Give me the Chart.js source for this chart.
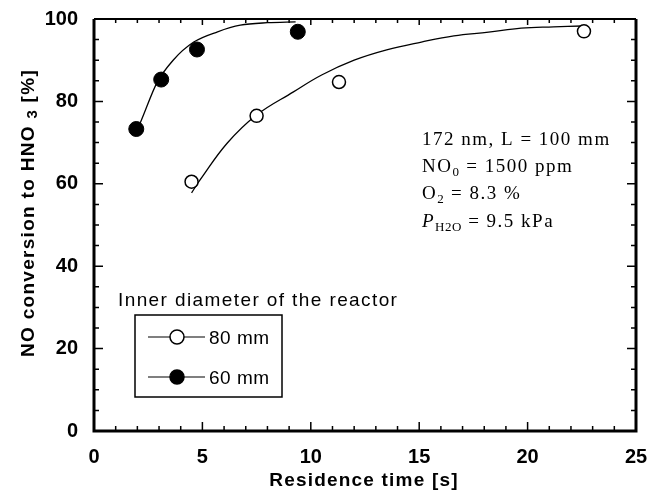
<!DOCTYPE html>
<html>
<head>
<meta charset="utf-8">
<script src="https://cdn.jsdelivr.net/npm/chart.js@4/dist/chart.umd.min.js"></script>
<style>
  html, body { margin: 0; padding: 0; background: #fff; }
  canvas { display: block; }
</style>
</head>
<body>
<canvas id="chart" width="649" height="501"></canvas>
<script>
// measured points (residence time [s], conversion [%])
const time80 = [4.5, 7.5, 11.3, 22.6];
const conv80 = [60.5, 76.5, 84.7, 97.0];
const time60 = [1.95, 3.1, 4.75, 9.4];
const conv60 = [73.3, 85.3, 92.6, 96.9];

// fitted curves
const fit80Time = [4.5, 4.9, 6.15, 7.5, 9.2, 10.5, 12, 13.5, 15.1, 16.6, 18.2, 19.7, 21.2, 22.5];
const fit80Conv = [57.8, 61, 69.9, 76.7, 82.3, 86.4, 90, 92.5, 94.4, 95.9, 96.8, 97.8, 98.1, 98.3];
const fit60Time = [2.0, 2.15, 2.9, 3.65, 4.6, 5.7, 6.75, 8.0, 9.3];
const fit60Conv = [73.3, 75, 84.5, 90, 94.4, 96.9, 98.5, 99.1, 99.3];

const xTickLabels = [0, 5, 10, 15, 20, 25];
const yTickLabels = [0, 20, 40, 60, 80, 100];
const legendLabels = ['80 mm', '60 mm'];

const toXY = (xs, ys) => xs.map((x, i) => ({ x: x, y: ys[i] }));

// draw text pieces one after another, some of them as subscripts
function richText(ctx, parts, x, y, align) {
    let total = 0;
    parts.forEach(p => { ctx.font = p.font; ctx.letterSpacing = (p.ls || 0) + 'px'; total += ctx.measureText(p.t).width; });
    let cx = align === 'center' ? x - total / 2 : x;
    ctx.textAlign = 'left';
    ctx.textBaseline = 'alphabetic';
    parts.forEach(p => {
        ctx.font = p.font;
        ctx.letterSpacing = (p.ls || 0) + 'px';
        ctx.fillText(p.t, cx, y + (p.dy || 0));
        cx += ctx.measureText(p.t).width;
    });
    ctx.letterSpacing = '0px';
}

const framePlugin = {
    id: 'frame',
    afterDraw(chart) {
        const ctx = chart.ctx;
        const a = chart.chartArea;
        const xs = chart.scales.x, ys = chart.scales.y;
        ctx.save();
        ctx.strokeStyle = '#000';
        ctx.fillStyle = '#000';

        // tick marks pointing inwards
        ctx.lineWidth = 1.5;
        ctx.beginPath();
        for (let v = 1; v < 25; v++) {
            const px = xs.getPixelForValue(v);
            const len = v % 5 === 0 ? 9 : 5;
            ctx.moveTo(px, a.bottom); ctx.lineTo(px, a.bottom - len);
            ctx.moveTo(px, a.top); ctx.lineTo(px, a.top + (v % 5 === 0 ? 6 : 4));
        }
        for (let v = 5; v < 100; v += 5) {
            const py = ys.getPixelForValue(v);
            const len = v % 20 === 0 ? 9 : 5;
            ctx.moveTo(a.left, py); ctx.lineTo(a.left + len, py);
            ctx.moveTo(a.right, py); ctx.lineTo(a.right - len, py);
        }
        ctx.stroke();

        // frame
        ctx.lineWidth = 3;
        ctx.beginPath();
        ctx.moveTo(a.left, a.top); ctx.lineTo(a.left, a.bottom); ctx.lineTo(a.right, a.bottom); ctx.lineTo(a.right, a.top);
        ctx.stroke();
        ctx.lineWidth = 2;
        ctx.beginPath();
        ctx.moveTo(a.left, a.top); ctx.lineTo(a.right, a.top);
        ctx.stroke();

        // axis titles
        const bold = 'bold 19px "Liberation Sans", Arial, sans-serif';
        richText(ctx, [{ t: 'Residence time [s]', font: bold, ls: 1.2 }], 364, 486, 'center');
        ctx.save();
        ctx.translate(34, 213);
        ctx.rotate(-Math.PI / 2);
        richText(ctx, [
            { t: 'NO conversion to HNO ', font: bold, ls: 1.3 },
            { t: '3', font: 'bold 15px "Liberation Sans", Arial, sans-serif', ls: 1.3, dy: 3 },
            { t: ' [%]', font: bold, ls: 1.3 }
        ], 0, 0, 'center');
        ctx.restore();

        // conditions
        const serif = '19px "Liberation Serif", "Times New Roman", serif';
        const serifSub = '13px "Liberation Serif", "Times New Roman", serif';
        richText(ctx, [{ t: '172 nm, L = 100 mm', font: serif, ls: 1.5 }], 422, 145);
        richText(ctx, [{ t: 'NO', font: serif, ls: 1.5 }, { t: '0', font: serifSub, ls: 1, dy: 4 }, { t: ' = 1500 ppm', font: serif, ls: 1.5 }], 422, 172);
        richText(ctx, [{ t: 'O', font: serif, ls: 1.5 }, { t: '2', font: serifSub, ls: 1, dy: 4 }, { t: ' = 8.3 %', font: serif, ls: 1.5 }], 422, 199);
        richText(ctx, [{ t: 'P', font: 'italic ' + serif, ls: 1.5 }, { t: 'H2O', font: serifSub, ls: 0.5, dy: 4 }, { t: ' = 9.5 kPa', font: serif, ls: 1.5 }], 422, 227);

        // legend
        const sans = '19px "Liberation Sans", Arial, sans-serif';
        richText(ctx, [{ t: 'Inner diameter of the reactor', font: sans, ls: 1.4 }], 118, 306);
        ctx.lineWidth = 1.5;
        ctx.strokeRect(135, 315, 147, 82);
        legendLabels.forEach((lab, i) => {
            const ry = 337 + i * 40;
            ctx.lineWidth = 1.2;
            ctx.beginPath();
            ctx.moveTo(148, ry); ctx.lineTo(205, ry);
            ctx.stroke();
            ctx.beginPath();
            ctx.arc(177, ry, 7, 0, Math.PI * 2);
            ctx.fillStyle = i === 0 ? '#fff' : '#000';
            ctx.fill();
            ctx.lineWidth = 1.5;
            ctx.stroke();
            ctx.fillStyle = '#000';
            richText(ctx, [{ t: lab, font: sans, ls: 0.5 }], 209, ry + 7);
        });
        ctx.restore();
    }
};

new Chart(document.getElementById('chart'), {
    type: 'scatter',
    data: {
        datasets: [
            {
                label: '80 mm',
                data: toXY(time80, conv80),
                pointRadius: 6.5,
                pointBackgroundColor: '#fff',
                pointBorderColor: '#000',
                pointBorderWidth: 1.5,
                showLine: false
            },
            {
                label: '60 mm',
                data: toXY(time60, conv60),
                pointRadius: 7.5,
                pointBackgroundColor: '#000',
                pointBorderColor: '#000',
                pointBorderWidth: 1,
                showLine: false
            },
            {
                label: 'fit 80 mm',
                data: toXY(fit80Time, fit80Conv),
                showLine: true,
                pointRadius: 0,
                borderColor: '#000',
                borderWidth: 1.3,
                tension: 0.4
            },
            {
                label: 'fit 60 mm',
                data: toXY(fit60Time, fit60Conv),
                showLine: true,
                pointRadius: 0,
                borderColor: '#000',
                borderWidth: 1.3,
                cubicInterpolationMode: 'monotone'
            }
        ]
    },
    options: {
        responsive: false,
        animation: false,
        devicePixelRatio: 1,
        layout: { padding: { top: 19, right: 13, left: 0, bottom: 0 } },
        plugins: { legend: { display: false }, tooltip: { enabled: false } },
        scales: {
            x: {
                type: 'linear',
                min: 0, max: 25,
                grid: { display: false, drawTicks: false },
                border: { display: false },
                ticks: {
                    stepSize: 1,
                    autoSkip: false,
                    maxRotation: 0,
                    padding: 14,
                    color: '#000',
                    font: { family: '"Liberation Sans", Arial, sans-serif', size: 20, weight: 'bold' },
                    callback: v => xTickLabels.includes(v) ? String(v) : ''
                },
                afterFit: s => { s.height = 70; s.paddingLeft = 0; s.paddingRight = 0; }
            },
            y: {
                type: 'linear',
                min: 0, max: 100,
                grid: { display: false, drawTicks: false },
                border: { display: false },
                ticks: {
                    stepSize: 5,
                    autoSkip: false,
                    padding: 16,
                    color: '#000',
                    font: { family: '"Liberation Sans", Arial, sans-serif', size: 20, weight: 'bold' },
                    callback: v => yTickLabels.includes(v) ? String(v) : ''
                },
                afterFit: s => { s.width = 94; s.paddingTop = 0; s.paddingBottom = 0; }
            }
        }
    },
    plugins: [framePlugin]
});
</script>
</body>
</html>
